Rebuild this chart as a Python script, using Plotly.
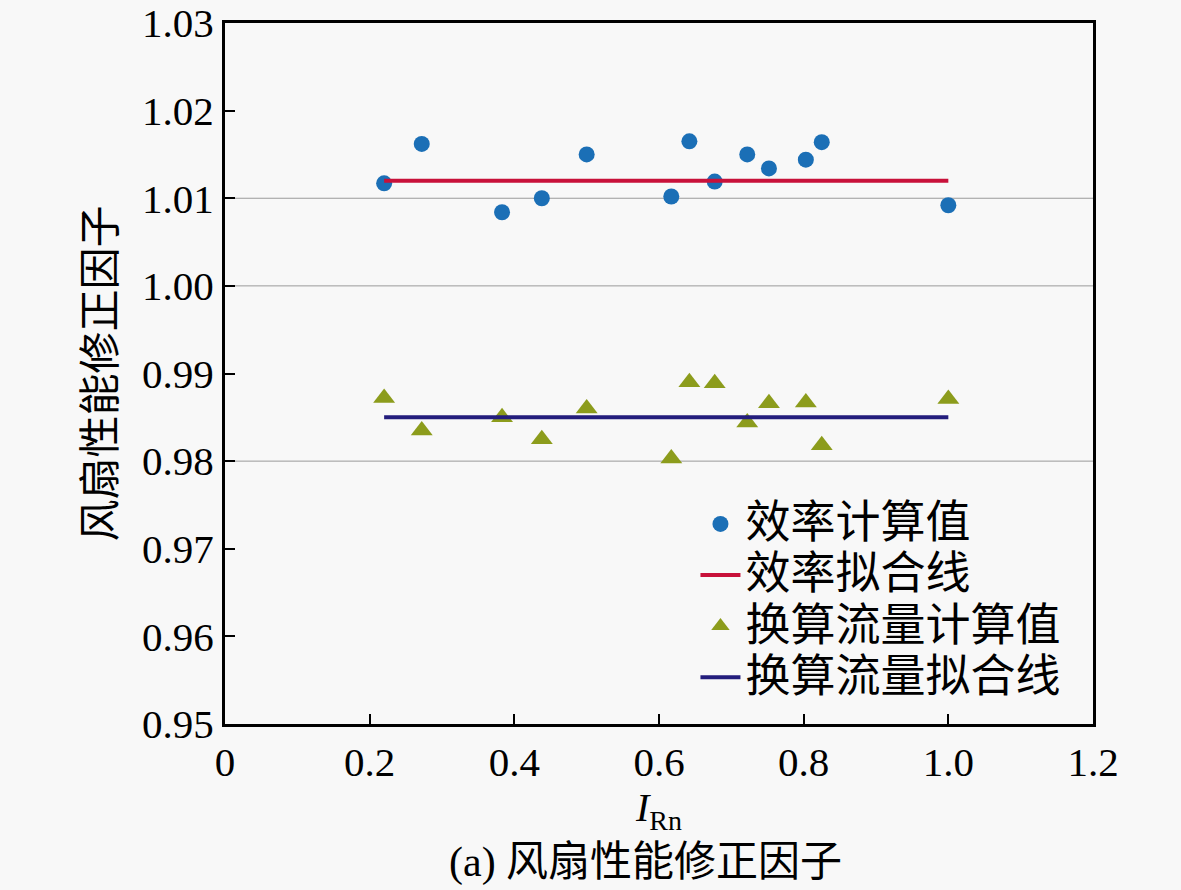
import plotly.graph_objects as go

# Data
irn = [0.220, 0.272, 0.383, 0.438, 0.500, 0.617, 0.642, 0.677, 0.722, 0.752, 0.803, 0.825, 1.000]
eff_vals = [1.0117, 1.0162, 1.0084, 1.0100, 1.0150, 1.0102, 1.0165, 1.0119, 1.0150, 1.0134, 1.0144, 1.0164, 1.0092]
flow_vals = [0.9872, 0.9835, 0.9850, 0.9825, 0.9860, 0.9803, 0.9890, 0.9889, 0.9844, 0.9866, 0.9867, 0.9818, 0.9871]
fit_x = [0.22, 1.0]
eff_fit = [1.012, 1.012]
flow_fit = [0.985, 0.985]
grid_vals = [0.98, 1.00, 1.01]

x_ticks = [0, 0.2, 0.4, 0.6, 0.8, 1.0, 1.2]
x_ticktext = ["0", "0.2", "0.4", "0.6", "0.8", "1.0", "1.2"]
y_ticks = [0.95, 0.96, 0.97, 0.98, 0.99, 1.00, 1.01, 1.02, 1.03]

names = ["效率计算值", "效率拟合线", "换算流量计算值", "换算流量拟合线"]

FONT = "Liberation Serif, 'Times New Roman', 'Noto Sans CJK SC', serif"
BG = "#f8f8f8"


def big(s):
    return '<span style="font-size:45px">' + s + '</span>'


fig = go.Figure()
fig.add_trace(go.Scatter(x=irn, y=eff_vals, mode="markers", name=big(names[0]),
                         marker=dict(symbol="circle", size=16, color="#1b6fb6")))
fig.add_trace(go.Scatter(x=fit_x, y=eff_fit, mode="lines", name=big(names[1]),
                         line=dict(color="#c8113a", width=4)))
fig.add_trace(go.Scatter(x=irn, y=flow_vals, mode="markers", name=big(names[2]),
                         marker=dict(symbol="triangle-up", size=19, color="#8c9c1c")))
fig.add_trace(go.Scatter(x=fit_x, y=flow_fit, mode="lines", name=big(names[3]),
                         line=dict(color="#231d7c", width=4)))

for g in grid_vals:
    fig.add_shape(type="line", xref="paper", yref="y", x0=0, x1=1, y0=g, y1=g,
                  line=dict(color="#9a9a9a", width=1), layer="below")

fig.update_layout(
    width=1181, height=890,
    margin=dict(l=225, r=88, t=23, b=166, autoexpand=False),
    paper_bgcolor=BG, plot_bgcolor=BG,
    font=dict(family=FONT, size=41, color="black"),
    showlegend=True,
    legend=dict(x=0.542, y=0.329, xanchor="left", yanchor="top",
                bgcolor="rgba(0,0,0,0)", font=dict(size=37),
                tracegroupgap=0, itemwidth=40),
    annotations=[dict(text="(a) 风扇性能修正因子", xref="paper", yref="paper",
                      x=0.484, y=-0.198, xanchor="center", yanchor="middle",
                      showarrow=False, font=dict(size=42))],
)
fig.update_xaxes(range=[0, 1.2], tickvals=x_ticks, ticktext=x_ticktext,
                 ticks="inside", ticklen=10, tickwidth=2, tickcolor="black",
                 showline=True, linewidth=3, linecolor="black", mirror=True,
                 showgrid=False, zeroline=False, automargin=False,
                 title=dict(text="<i>I</i><sub>Rn</sub>", standoff=2, font=dict(size=40)))
fig.update_yaxes(range=[0.95, 1.03], tickvals=y_ticks, tickformat=".2f",
                 ticks="inside", ticklen=10, tickwidth=2, tickcolor="black",
                 showline=True, linewidth=3, linecolor="black", mirror=True,
                 showgrid=False, zeroline=False, automargin=False,
                 title=dict(text="风扇性能修正因子", standoff=14, font=dict(size=42)))

fig.write_html("out.html", config={"displayModeBar": False},
               post_script="document.body.style.margin='0';")
